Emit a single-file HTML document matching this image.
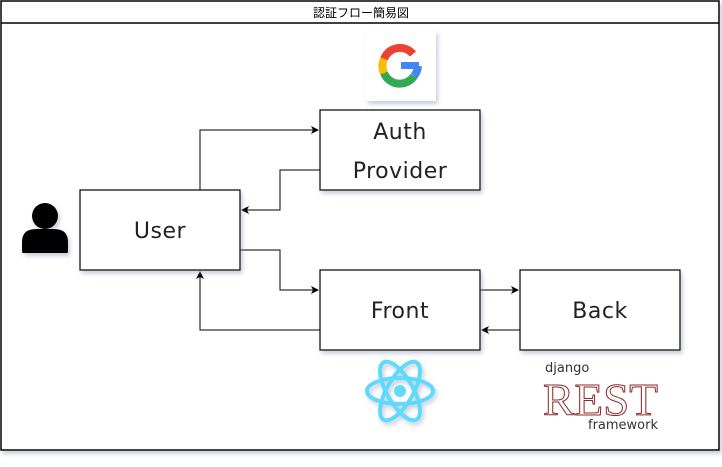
<!DOCTYPE html>
<html><head><meta charset="utf-8"><style>
body{margin:0;width:722px;height:462px;background:#fff;overflow:hidden}
</style></head><body>
<svg width="722" height="462" viewBox="0 0 722 462" xmlns="http://www.w3.org/2000/svg">
<defs>
<filter id="sh" x="-10%" y="-10%" width="130%" height="130%"><feDropShadow dx="2" dy="3" stdDev="2" flood-color="#8890b0" flood-opacity="0.45"/></filter>
<marker id="ar" markerWidth="8" markerHeight="8" refX="7" refY="4" orient="auto" markerUnits="userSpaceOnUse"><path d="M0,0 L8,4 L0,8 L2,4 Z" fill="#000"/></marker>
</defs>
<rect x="1" y="1" width="718" height="449" fill="#fff" stroke="#000" stroke-width="1.5" filter="url(#sh)"/>
<line x1="1" y1="23" x2="719" y2="23" stroke="#000" stroke-width="1.5"/>
<text x="361" y="17" text-anchor="middle" font-family="'Liberation Sans','Noto Sans CJK JP',sans-serif" font-size="12">認証フロー簡易図</text>

<g fill="none" stroke="#000" stroke-width="1">
<path d="M200,190 V130 H318" marker-end="url(#ar)"/>
<path d="M320,170 H280 V210 H242" marker-end="url(#ar)"/>
<path d="M240,250 H280 V290 H318" marker-end="url(#ar)"/>
<path d="M320,330 H200 V272" marker-end="url(#ar)"/>
<path d="M480,290 H518" marker-end="url(#ar)"/>
<path d="M520,330 H482" marker-end="url(#ar)"/>
</g>

<g fill="#fff" stroke="#000" stroke-width="1.2" filter="url(#sh)">
<rect x="320" y="110" width="160" height="80"/>
<rect x="80" y="190" width="160" height="80"/>
<rect x="320" y="270" width="160" height="80"/>
<rect x="520" y="270" width="160" height="80"/>
</g>
<g font-family="'DejaVu Sans','Liberation Sans',sans-serif" font-size="22" text-anchor="middle" fill="#222" letter-spacing="0.5">
<text x="400" y="139">Auth</text>
<text x="400" y="178">Provider</text>
<text x="160" y="238">User</text>
<text x="400" y="318">Front</text>
<text x="600" y="318">Back</text>
</g>

<g fill="#000" filter="url(#sh)">
<circle cx="45" cy="216" r="13"/>
<path d="M22,252 V242 Q22,229 36,229 H54 Q68,229 68,242 V252 Q68,253 66,253 H24 Q22,253 22,252Z"/>
</g>

<rect x="366" y="31" width="70" height="70" fill="#fff" filter="url(#sh)"/>
<g fill="none" stroke-width="8">
<path d="M413,54 A17,17 0 0 0 384,59" stroke="#ea4335"/>
<path d="M384,59 A17,17 0 0 0 384,73" stroke="#fbbc05"/>
<path d="M384,73 A17,17 0 0 0 414,76" stroke="#34a853"/>
<path d="M414,76 A17,17 0 0 0 418,66" stroke="#4285f4"/>
</g>
<rect x="401" y="62" width="18" height="7" fill="#4285f4"/>

<g fill="none" stroke="#61dafb" stroke-width="4" filter="url(#sh)">
<ellipse cx="400" cy="391" rx="33" ry="13"/>
<ellipse cx="400" cy="391" rx="33" ry="13" transform="rotate(60 400 391)"/>
<ellipse cx="400" cy="391" rx="33" ry="13" transform="rotate(-60 400 391)"/>
</g>
<circle cx="400" cy="391" r="6" fill="#61dafb"/>

<text x="545" y="372" font-family="'DejaVu Sans',sans-serif" font-size="13" fill="#333">django</text>
<text x="543" y="415" font-family="'Liberation Serif',serif" font-size="46" fill="#fff" stroke="#8b2a2a" stroke-width="1" textLength="115" lengthAdjust="spacingAndGlyphs">REST</text>
<text x="588" y="429" font-family="'DejaVu Sans',sans-serif" font-size="13" fill="#333">framework</text>
</svg>
</body></html>
